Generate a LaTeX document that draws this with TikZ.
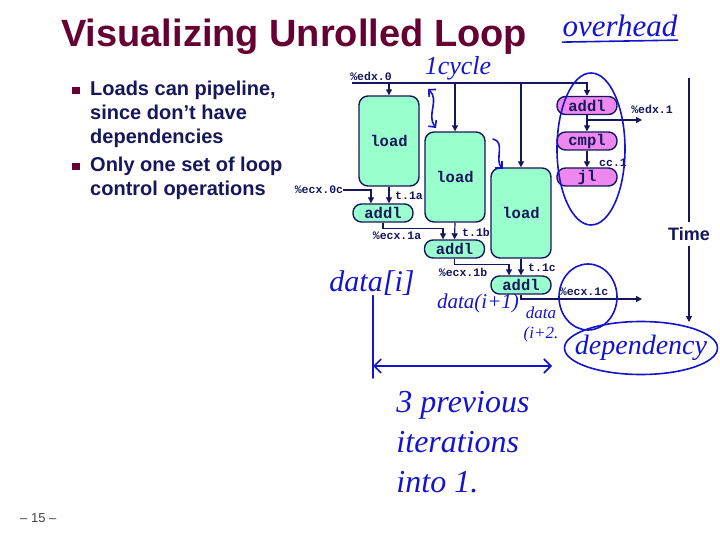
\documentclass[tikz,border=0pt]{standalone}
\usepackage{fontspec}
\setmainfont{Liberation Sans}
\newfontfamily\codefont{Liberation Mono}
\newfontfamily\handfont{Liberation Serif}
\usetikzlibrary{shapes,arrows.meta}

\definecolor{navy}{RGB}{22,22,92}
\definecolor{titlered}{RGB}{102,0,51}
\definecolor{mint}{RGB}{153,255,204}
\definecolor{pinky}{RGB}{238,136,238}
\definecolor{ink}{RGB}{20,20,205}

\tikzset{
  loadbox/.style={draw=navy, line width=1.4pt, fill=mint, rounded corners=9pt, minimum width=60pt, minimum height=90pt, text=navy, font=\codefont\bfseries\fontsize{15.5}{15.5}\selectfont},
  opbox/.style={draw=navy, line width=1.4pt, rounded corners=8.5pt, minimum width=60pt, minimum height=18pt, inner sep=0pt, text=navy, font=\codefont\bfseries\fontsize{15.5}{15.5}\selectfont},
  addbox/.style={opbox, fill=mint},
  ctlbox/.style={opbox, fill=pinky},
  reg/.style={inner sep=0pt, text=navy, font=\codefont\bfseries\fontsize{11.5}{11.5}\selectfont},
  flow/.style={draw=navy, line width=1.2pt, -{Triangle[length=6pt,width=6pt]}},
  bullet/.style={anchor=base west, inner sep=0pt, text=navy, font=\bfseries\fontsize{20}{24}\selectfont},
  hand/.style={inner sep=0pt, text=ink, font=\handfont\itshape},
  inkpen/.style={draw=ink, line width=1.6pt, line cap=round},
  ring/.style={draw=ink, line width=1.6pt, ellipse},
}

\begin{document}
\begin{tikzpicture}[x=1pt, y=-1pt]
    \useasboundingbox (0,0) rectangle (720,540);

    % Title and bullets
    \node[anchor=base west, inner sep=0pt, text=titlered, font=\bfseries\fontsize{38}{38}\selectfont] (title) at (61,47) {Visualizing Unrolled Loop};
    \fill[titlered] (72,87) rectangle ++(7.5,7.5);
    \fill[titlered] (72,163) rectangle ++(7.5,7.5);
    \node[bullet] (b1a) at (90,96) {Loads can pipeline,};
    \node[bullet] (b1b) at (90,120) {since don't have};
    \node[bullet] (b1c) at (90,144) {dependencies};
    \node[bullet] (b2a) at (90,172) {Only one set of loop};
    \node[bullet] (b2b) at (90,196) {control operations};
    \node[anchor=base west, inner sep=0pt, text=black!75, font=\fontsize{13}{13}\selectfont] (pageno) at (20,522) {-- 15 --};

    % Boxes
    \node[loadbox] (load1) at (389,141) {load};
    \node[loadbox] (load2) at (455,177) {load};
    \node[loadbox] (load3) at (521,213) {load};
    \node[addbox] (add1) at (383,213) {addl};
    \node[addbox] (add2) at (454.5,249) {addl};
    \node[addbox] (add3) at (521,285) {addl};
    \node[ctlbox] (addedx) at (587,105.5) {addl};
    \node[ctlbox] (cmp) at (587,141) {cmpl};
    \node[ctlbox] (jl) at (587,177) {jl};

    % Register labels
    \node[reg] (edxin) at (371,76) {\%edx.0};
    \node[reg] (edxout) at (652,109) {\%edx.1};
    \node[reg] (ccone) at (613,163) {cc.1};
    \node[reg] (ecxin) at (319,190) {\%ecx.0c};
    \node[reg] (tone) at (409,196) {t.1a};
    \node[reg] (ecxa) at (397,236) {\%ecx.1a};
    \node[reg] (ttwo) at (476,232) {t.1b};
    \node[reg] (ecxb) at (463,272) {\%ecx.1b};
    \node[reg] (tthree) at (542,268) {t.1c};
    \node[reg] (ecxc) at (584,292) {\%ecx.1c};

    \coordinate (edxline) at (352,83);
    \coordinate (edxend) at (642,120);
    \coordinate (ecxend) at (642,299);

    % Connections
    \draw[flow] (edxline) -| (addedx.north);
    \draw[flow] (load1.north |- edxline) -- (load1.north);
    \draw[flow] (load2.north |- edxline) -- (load2.north);
    \draw[flow] (load3.north |- edxline) -- (load3.north);
    \draw[flow] (addedx.south) -- (cmp.north);
    \draw[flow] (addedx.south |- edxend) -- (edxend);
    \draw[flow] (cmp.south) -- (jl.north);
    \draw[flow] (ecxin.east) -| ([xshift=-12pt]add1.north);
    \draw[flow] (load1.south) -- (load1.south |- add1.north);
    \draw[flow] (add1.south) -- ++(0,6) -| ([xshift=-11.5pt]add2.north);
    \draw[flow] (load2.south) -- (add2.north);
    \draw[flow] (add2.south) -- ++(0,6) -| ([xshift=-12pt]add3.north);
    \draw[flow] (load3.south) -- (add3.north);
    \draw[flow] (add3.south) |- (ecxend);

    % Time axis
    \coordinate (ttop) at (689,78);
    \coordinate (tbot) at (689,322);
    \draw[flow] (ttop) -- (tbot);
    \node[fill=white, inner xsep=1pt, inner ysep=5pt, text=navy, font=\bfseries\fontsize{18}{18}\selectfont] (time) at (689,234) {Time};

    % Handwritten notes
    \node[hand, font=\handfont\itshape\fontsize{31}{31}\selectfont] (overhead) at (620,26) {overhead};
    \draw[inkpen] ([yshift=-5pt]overhead.south west) -- ([yshift=-3pt]overhead.south east);
    \node[hand, font=\handfont\itshape\fontsize{26}{26}\selectfont] (cycle) at (458,68) {1cycle};
    \draw[inkpen, <->, >={Straight Barb[length=5pt]}] (428,89) .. controls (440,100) and (426,115) .. (436,128);
    \draw[inkpen, ->, >={Straight Barb[length=5pt]}] (493,139) .. controls (506,142) and (494,160) .. (503,169);
    \node[ring, minimum width=68pt, minimum height=152pt] (loopring) at (591,149) {};
    \node[ring, minimum width=58pt, minimum height=66pt] (ecxring) at (588,297) {};
    \node[hand, font=\handfont\itshape\fontsize{30}{30}\selectfont] (datai) at (372,283) {data[i]};
    \node[hand, font=\handfont\itshape\fontsize{21}{21}\selectfont] (dataone) at (478,303) {data(i+1)};
    \node[hand, align=center, font=\handfont\itshape\fontsize{17}{20}\selectfont] (datatwo) at (541,324) {data\\(i+2.};
    \node[ring, minimum width=153pt, minimum height=53pt] (depring) at (641,348) {};
    \node[hand, font=\handfont\itshape\fontsize{28}{28}\selectfont] (dep) at (depring.center) {dependency};
    \coordinate (arrowleft) at (373,366);
    \coordinate (arrowright) at (552,366);
    \draw[inkpen] (datai.south -| arrowleft) -- ([yshift=-12pt]arrowleft);
    \draw[inkpen, <->, >={Straight Barb[length=7pt]}] (arrowleft) -- (arrowright);
    \node[hand, align=left, font=\handfont\itshape\fontsize{32}{40}\selectfont] (prev) at (463,442) {3 previous\\iterations\\into 1.};
\end{tikzpicture}
\end{document}
